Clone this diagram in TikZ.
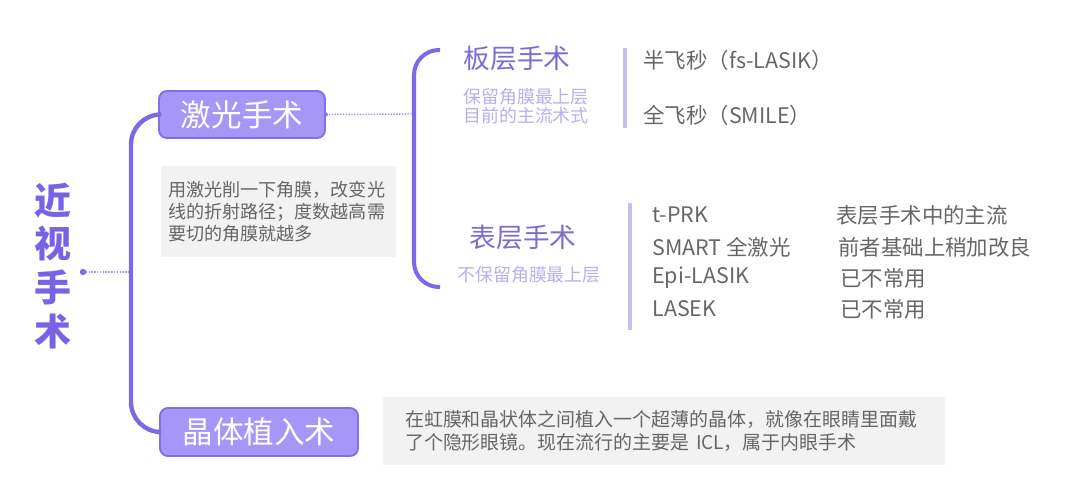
\documentclass[tikz,border=0pt]{standalone}
\usepackage{fontspec}
\setmainfont{Noto Sans CJK SC}
\usepackage{tikz}
\usetikzlibrary{positioning}

\definecolor{mainpurple}{RGB}{125,104,230}
\definecolor{boxfill}{RGB}{166,150,248}
\definecolor{boxline}{RGB}{130,111,232}
\definecolor{rootpurple}{RGB}{122,98,228}
\definecolor{headpurple}{RGB}{124,108,210}
\definecolor{subpurple}{RGB}{185,175,236}
\definecolor{barpurple}{RGB}{198,189,240}
\definecolor{notegray}{RGB}{242,242,242}
\definecolor{textgray}{RGB}{102,102,102}

\begin{document}
\begin{tikzpicture}[x=0.02cm, y=-0.02cm,
  trunk/.style={line width=2.5pt, draw=mainpurple},
  dotline/.style={draw=mainpurple!70, line width=0.8pt, dash pattern=on 0.8pt off 0.8pt},
  catbox/.style={draw=boxline, line width=1.1pt, fill=boxfill, rounded corners=0.16cm,
    text=white, font=\fontsize{17.4pt}{20pt}\selectfont, inner sep=0pt},
  heading/.style={text=headpurple, font=\fontsize{15.2pt}{18pt}\selectfont, inner sep=0pt},
  subnote/.style={text=subpurple, font=\fontsize{10.2pt}{10.6pt}\selectfont, inner sep=0pt, align=left},
  item/.style={text=textgray, font=\fontsize{12.2pt}{15pt}\selectfont, inner sep=0pt, anchor=west},
  note/.style={fill=notegray, text=textgray, align=left, inner ysep=0pt, anchor=center}]
\useasboundingbox (0,0) rectangle (1075,494);

% root
\node[text=rootpurple, font=\fontsize{21pt}{25pt}\selectfont\bfseries, align=center, inner sep=0pt] (root) at (53,266) {近\\视\\手\\术};
\coordinate (rootdot) at (83,272);
\coordinate (rootjoin) at (131,272);
\fill[mainpurple] (rootdot) circle (3.2);
\draw[dotline] (rootdot) -- (rootjoin);

% main branches
\node[catbox, minimum width=3.32cm, minimum height=0.94cm] (laser) at (242,114.5) {激光手术};
\node[catbox, minimum width=3.96cm, minimum height=0.96cm] (lens) at (259,432) {晶体植入术};
\draw[trunk, rounded corners=0.6cm] (laser.west) -| (rootjoin) |- (lens.west);

\node[note, font=\fontsize{10.3pt}{12.5pt}\selectfont, minimum width=4.7cm, minimum height=1.82cm,
  text width=4.42cm] (lasernote) at (278.5,211.5) {用激光削一下角膜，改变光\\线的折射路径；度数越高需\\要切的角膜就越多};
\node[note, font=\fontsize{10.8pt}{13pt}\selectfont, minimum width=11.24cm, minimum height=1.36cm,
  text width=10.36cm] (lensnote) at (664,431) {在虹膜和晶状体之间植入一个超薄的晶体，就像在眼睛里面戴\\了个隐形眼镜。现在流行的主要是 ICL，属于内眼手术};

% laser sub branches
\coordinate (fork) at (414,114);
\coordinate (flaptop) at (440,50);
\coordinate (surfbot) at (440,287);
\fill[mainpurple] (laser.east) circle (2);
\draw[dotline] (laser.east) -- (fork);
\draw[trunk, line width=2.3pt, rounded corners=0.5cm] (flaptop) -| (fork) |- (surfbot);

\node[heading] (flap) at (517,58) {板层手术};
\node[subnote, anchor=west] (flapnote) at (463,106) {保留角膜最上层\\目前的主流术式};
\node[heading] (surface) at (523,237) {表层手术};
\node[subnote, anchor=west] (surfnote) at (457,275) {不保留角膜最上层};

% flap items
\draw[barpurple, line width=2.6pt] (625,48) -- (625,128);
\node[item] (fslasik) at (643,60) {半飞秒（fs-LASIK）};
\node[item] (smile) at (643,115) {全飞秒（SMILE）};

% surface items
\draw[barpurple, line width=2.6pt] (630,203) -- (630,330);
\node[item] (tprk) at (652,215) {t-PRK};
\node[item] (smart) at (652,247) {SMART 全激光};
\node[item] (epi) at (652,278) {Epi-LASIK};
\node[item] (lasek) at (652,309) {LASEK};
\node[item] (tprknote) at (836,215) {表层手术中的主流};
\node[item] (smartnote) at (838,247) {前者基础上稍加改良};
\node[item] (epinote) at (840,278) {已不常用};
\node[item] (laseknote) at (840,309) {已不常用};
\end{tikzpicture}
\end{document}
